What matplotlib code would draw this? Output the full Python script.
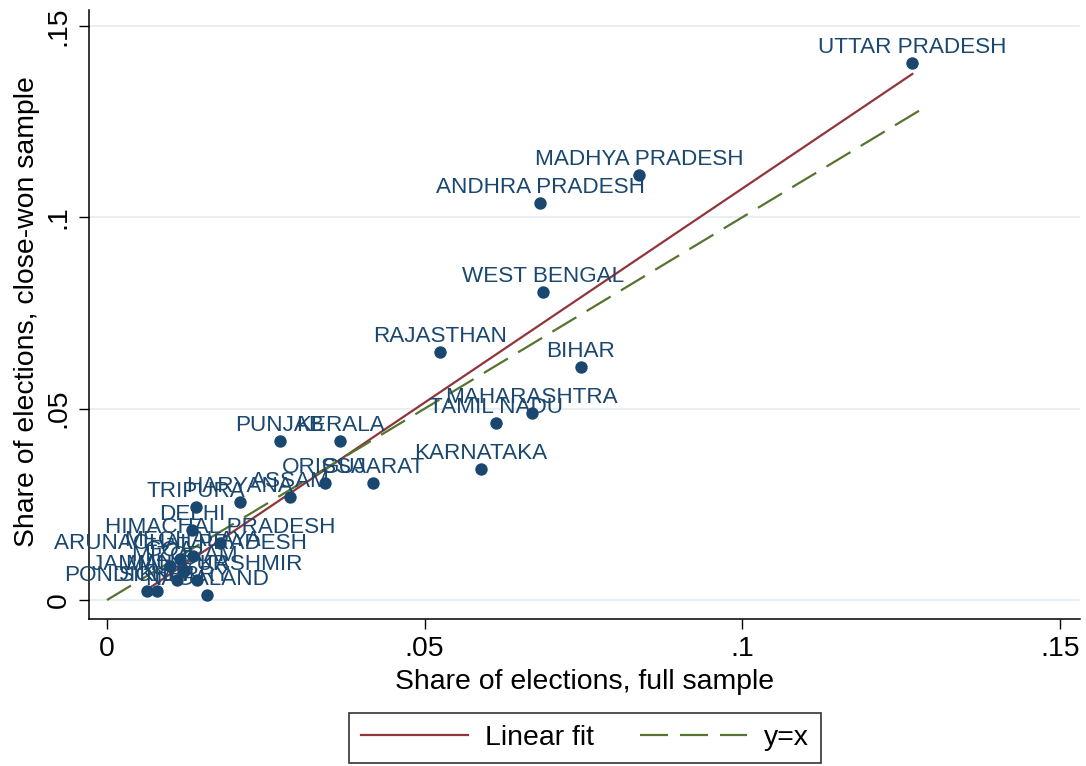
import numpy as np
import matplotlib
matplotlib.use("Agg")
import matplotlib.pyplot as plt
from matplotlib.lines import Line2D

plt.rcParams['font.family'] = ['Liberation Sans', 'DejaVu Sans']

# state shares of elections: full sample (x) vs close-won sample (y)
states = ["UTTAR PRADESH", "MADHYA PRADESH", "ANDHRA PRADESH", "WEST BENGAL",
          "RAJASTHAN", "BIHAR", "MAHARASHTRA", "TAMIL NADU", "KARNATAKA",
          "PUNJAB", "KERALA", "ORISSA", "GUJARAT", "ASSAM", "HARYANA",
          "TRIPURA", "DELHI", "HIMACHAL PRADESH", "ARUNACHAL PRADESH",
          "MEGHALAYA", "GOA", "JAMMU & KASHMIR", "MANIPUR", "MIZORAM",
          "PONDICHERRY", "SIKKIM", "NAGALAND"]
share_full = [0.1268, 0.0838, 0.0682, 0.0687,
              0.0524, 0.0746, 0.0669, 0.0613, 0.0589,
              0.0272, 0.0367, 0.0343, 0.0419, 0.0288, 0.0209,
              0.0140, 0.0134, 0.0178, 0.0115,
              0.0135, 0.0099, 0.0142, 0.0110, 0.0122,
              0.0063, 0.0079, 0.0157]
share_close = [0.1403, 0.1111, 0.1037, 0.0805,
               0.0648, 0.0609, 0.0489, 0.0463, 0.0342,
               0.0415, 0.0415, 0.0306, 0.0306, 0.0269, 0.0256,
               0.0243, 0.0183, 0.0149, 0.0107,
               0.0115, 0.0089, 0.0052, 0.0052, 0.0075,
               0.0024, 0.0024, 0.0013]
diag_end = 0.128

tick_vals = [0, 0.05, 0.1, 0.15]
tick_labels = ["0", ".05", ".1", ".15"]

navy = "#1a476f"
maroon = "#90353b"
green = "#55752f"

fig = plt.figure(figsize=(10.86, 7.66), dpi=100)
ax = fig.add_axes([89 / 1086, 147 / 766, 991 / 1086, 609 / 766])

x = np.array(share_full)
y = np.array(share_close)

ax.set_xlim(-0.00283, 0.1532)
ax.set_ylim(-0.00496, 0.1542)

for v in tick_vals:
    ax.axhline(v, color="#e8eff2", lw=1.5, zorder=0)

ax.scatter(x, y, s=80, color=navy, zorder=3, linewidths=0)
for name, xi, yi in zip(states, x, y):
    ax.annotate(name, (xi, yi), xytext=(0, 7.2), textcoords="offset points",
                ha="center", va="baseline", fontsize=16.2, color=navy, zorder=4)

# OLS fit across the observed range
b, a = np.polyfit(x, y, 1)
xf = np.array([x.min(), x.max()])
ax.plot(xf, a + b * xf, color=maroon, lw=1.6, zorder=2)
ax.plot([0, diag_end], [0, diag_end], color=green, lw=1.6,
        dashes=(12.6, 5.4), zorder=2)

for s in ["top", "right"]:
    ax.spines[s].set_visible(False)
for s in ["left", "bottom"]:
    ax.spines[s].set_linewidth(1.1)

ax.set_xticks(tick_vals)
ax.set_xticklabels(tick_labels)
ax.set_yticks(tick_vals)
ax.set_yticklabels(tick_labels, rotation=90, va="center")
ax.tick_params(direction="out", length=7, width=1, labelsize=20.4, pad=5.5)

ax.set_xlabel("Share of elections, full sample", fontsize=20.4, labelpad=5)
ax.set_ylabel("Share of elections, close-won sample", fontsize=20.4)
ax.yaxis.set_label_coords(-0.049, 0.505)

handles = [Line2D([], [], color=maroon, lw=1.6),
           Line2D([], [], color=green, lw=1.6, dashes=(12.6, 5.4))]
leg = fig.legend(handles, ["Linear fit", "y=x"], loc="lower center",
                 bbox_to_anchor=(585 / 1086, 3 / 766), ncol=2, fontsize=20.4,
                 frameon=True, fancybox=False, borderaxespad=0, borderpad=0.42,
                 handlelength=3.75, handletextpad=0.6, columnspacing=1.65)
leg.get_frame().set_edgecolor("black")
leg.get_frame().set_linewidth(1.2)

fig.savefig("out.png", dpi=100, facecolor="white")
